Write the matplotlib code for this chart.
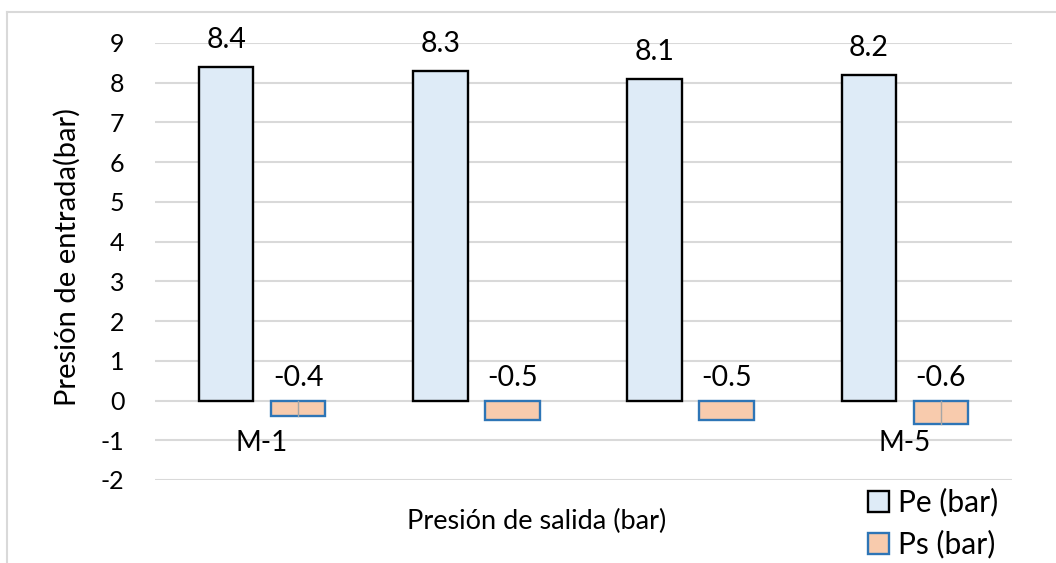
import matplotlib
matplotlib.use("Agg")
import matplotlib.pyplot as plt
from matplotlib.patches import Patch
from matplotlib.lines import Line2D
import numpy as np

# Data
categories = ["M-1", "", "", "M-5"]
pe_values = [8.4, 8.3, 8.1, 8.2]
ps_values = [-0.4, -0.5, -0.5, -0.6]
series_names = ["Pe (bar)", "Ps (bar)"]
y_ticks = list(range(-2, 10))

plt.rcParams["font.family"] = ["Lato", "DejaVu Sans"]

W, H = 1056, 563
fig = plt.figure(figsize=(W / 100, H / 100), dpi=100)
ax = fig.add_axes([155 / W, 1 - 480 / H, (1012 - 155) / W, (480 - 43) / H])

x = np.arange(len(categories))
bar_w = 0.255
offset = 0.168

pe_face, pe_edge = "#DEEBF7", "#000000"
ps_face, ps_edge = "#F8CBAD", "#2E75B6"

ax.bar(x - offset, pe_values, width=bar_w, color=pe_face, edgecolor=pe_edge,
       linewidth=1.7, zorder=3)
ax.bar(x + offset, ps_values, width=bar_w, color=ps_face, edgecolor=ps_edge,
       linewidth=1.7, zorder=3)

# leader lines for the repositioned labels
for i in (0, 3):
    ax.plot([x[i] + offset, x[i] + offset], [0, ps_values[i]], color="#A6A6A6",
            linewidth=1.0, zorder=4)

# value labels
for xi, v in zip(x, pe_values):
    ax.text(xi - offset, v + 0.67, f"{v:.1f}", ha="center", va="center",
            fontsize=20.5, color="#000000")
for xi, v in zip(x, ps_values):
    ax.text(xi + offset, 0.57, f"{v:.1f}", ha="center", va="center",
            fontsize=20.5, color="#000000")

# category labels
for xi, c in zip(x, categories):
    if c:
        ax.text(xi, -1.06, c, ha="center", va="center", fontsize=20, color="#000000")

ax.set_xlim(-0.5, len(categories) - 0.5)
ax.set_ylim(-2, 9)
ax.set_yticks(y_ticks)
ax.set_yticklabels([str(t) for t in y_ticks], fontsize=18)
ax.set_xticks([])
ax.tick_params(axis="y", length=0, pad=22)
ax.grid(axis="y", color="#D9D9D9", linewidth=1.5, zorder=0)
for s in ax.spines.values():
    s.set_visible(False)

fig.text(67 / W, 1 - 257 / H, "Presión de entrada(bar)", rotation=90,
         ha="center", va="center", fontsize=21)
fig.text(537 / W, 1 - 521 / H, "Presión de salida (bar)", ha="center",
         va="center", fontsize=19.5)

# chart frame (left and top edges)
fig.add_artist(Line2D([7 / W, 7 / W], [0, 1 - 12 / H], color="#D9D9D9",
                      linewidth=1.5, transform=fig.transFigure))
fig.add_artist(Line2D([7 / W, 1], [1 - 12 / H, 1 - 12 / H], color="#D9D9D9",
                      linewidth=1.5, transform=fig.transFigure))

handles = [Patch(facecolor=pe_face, edgecolor=pe_edge, linewidth=1.7),
           Patch(facecolor=ps_face, edgecolor=ps_edge, linewidth=1.7)]
fig.legend(handles, series_names, loc="upper left",
           bbox_to_anchor=(868 / W, 1 - 488 / H), frameon=False, fontsize=21.5,
           handlelength=0.7, handleheight=0.7, handletextpad=0.3,
           labelspacing=0.45, borderpad=0, borderaxespad=0)

fig.savefig("out.png", dpi=100, facecolor="white")
